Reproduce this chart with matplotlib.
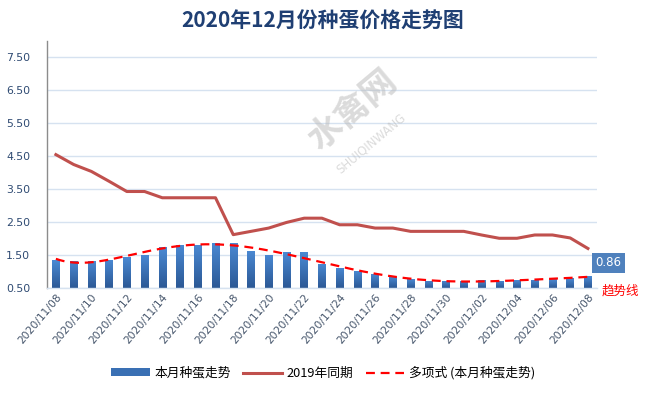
import numpy as np
import matplotlib
matplotlib.use("Agg")
import matplotlib.pyplot as plt
from matplotlib.patches import Patch
from matplotlib.lines import Line2D
from matplotlib.colors import LinearSegmentedColormap

plt.rcParams['font.family'] = ['Noto Sans CJK SC', 'DejaVu Sans']

dates = ["2020/11/%02d" % d for d in range(8, 31)] + ["2020/12/%02d" % d for d in range(1, 9)]
this_month = [1.34, 1.33, 1.33, 1.36, 1.43, 1.51, 1.73, 1.81, 1.82, 1.87,
              1.87, 1.63, 1.51, 1.58, 1.58, 1.24, 1.12, 1.02, 0.93, 0.84,
              0.76, 0.72, 0.72, 0.72, 0.73, 0.72, 0.73, 0.75, 0.76, 0.79, 0.86]
same_2019 = [4.55, 4.25, 4.04, 3.74, 3.43, 3.43, 3.24, 3.24, 3.24, 3.24,
             2.12, 2.22, 2.32, 2.49, 2.62, 2.62, 2.42, 2.42, 2.32, 2.32,
             2.22, 2.22, 2.22, 2.22, 2.11, 2.01, 2.01, 2.11, 2.11, 2.02, 1.70]
yticks = [0.5, 1.5, 2.5, 3.5, 4.5, 5.5, 6.5, 7.5]
legend_labels = ["本月种蛋走势", "2019年同期", "多项式 (本月种蛋走势)"]
title = "2020年12月份种蛋价格走势图"

fig = plt.figure(figsize=(6.46, 3.94), dpi=100)
ax = fig.add_axes([0.0728, 0.269, 0.851, 0.627])

x = np.arange(len(dates))
base = yticks[0]
heights = np.array(this_month) - base
bars = ax.bar(x, heights, width=0.42, bottom=base, color='none', zorder=2)
grad = np.linspace(0, 1, 256).reshape(-1, 1)
cmap = LinearSegmentedColormap.from_list('g', ['#2B5895', '#4B8AD4'])
for b in bars:
    x0, y0 = b.get_x(), b.get_y()
    w, h = b.get_width(), b.get_height()
    im = ax.imshow(grad, cmap=cmap, origin='lower', aspect='auto',
                   extent=[x0, x0 + w, y0, y0 + h], zorder=2)
    im.set_clip_path(b)

ax.plot(x, same_2019, color='#C0504D', lw=2.2, zorder=3, solid_joinstyle='round')

coef = np.polyfit(x, this_month, 6)
xs = np.linspace(0, len(x) - 1, 300)
ax.plot(xs, np.polyval(coef, xs), color='#FF0000', lw=1.6, ls=(0, (4, 2.6)), zorder=4)

ax.set_xlim(-0.5, len(x) - 0.5)
ax.set_ylim(0.5, 8.0)
ax.set_yticks(yticks)
ax.set_yticklabels(["%.2f" % v for v in yticks], fontsize=7.8, color='#2E4A72',
                   family=['DejaVu Sans'])
ax.set_xticks(x[::2])
ax.set_xticklabels(dates[::2], rotation=50, ha='right', va='top', rotation_mode='anchor',
                   fontsize=7.7, color='#44546A', family=['DejaVu Sans'])
ax.tick_params(axis='both', length=0, pad=3)
ax.tick_params(axis='y', pad=12)
ax.grid(axis='y', color='#D6E2F0', lw=1.0, zorder=0)
ax.set_axisbelow(True)
for s in ['top', 'right']:
    ax.spines[s].set_visible(False)
ax.spines['left'].set_color('#8C8C8C')
ax.spines['left'].set_linewidth(1.0)
ax.spines['bottom'].set_color('#D6E2F0')
ax.spines['bottom'].set_linewidth(1.0)

# watermark
fig.text(0.545, 0.72, "水禽网", fontsize=25, color='#B8B8B8', alpha=0.5, rotation=40,
         ha='center', va='center', weight='bold')
fig.text(0.575, 0.635, "SHUIQINWANG", fontsize=8.5, color='#B8B8B8', alpha=0.5, rotation=40,
         ha='center', va='center', family=['DejaVu Sans'])

fig.text(0.5, 0.947, title, fontsize=15, weight='bold', color='#1F3F73',
         ha='center', va='center')

# data label for last bar
ax.annotate("%.2f" % this_month[-1], xy=(x[-1], this_month[-1]), xytext=(14.5, 9.5),
            textcoords='offset points', ha='center', va='center', fontsize=8.5,
            color='white', family=['DejaVu Sans'],
            bbox=dict(boxstyle='square,pad=0.3', fc='#4F81BD', ec='none'),
            annotation_clip=False)
fig.text(0.961, 0.261, "趋势线", fontsize=9, color='#FF0000', ha='center', va='center')

handles = [Patch(facecolor='#3A70B4', edgecolor='none'),
           Line2D([], [], color='#C0504D', lw=2.2),
           Line2D([], [], color='#FF0000', lw=1.6, ls=(0, (4, 2.6)))]
fig.legend(handles, legend_labels, loc='center', bbox_to_anchor=(0.5, 0.053), ncol=3,
           frameon=False, fontsize=9.2, handlelength=3.0, handleheight=0.6,
           columnspacing=1.0, handletextpad=0.35)

fig.savefig("out.png", dpi=100)
